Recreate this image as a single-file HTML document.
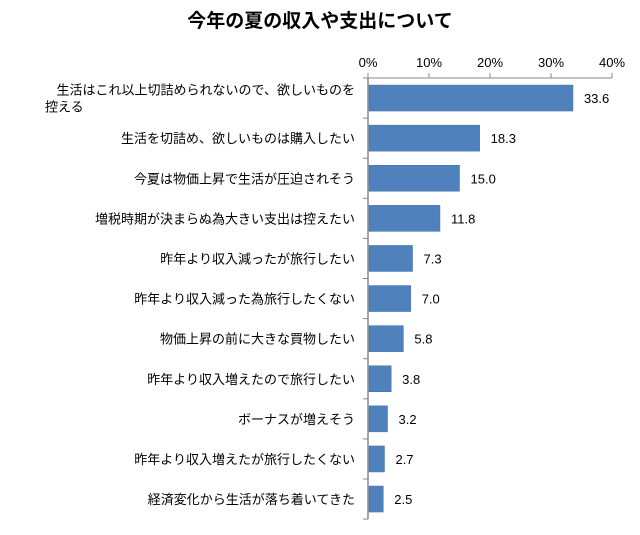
<!DOCTYPE html>
<html><head><meta charset="utf-8"><style>
body{margin:0;background:#fff;font-family:"Liberation Sans","Noto Sans CJK JP",sans-serif}
svg text{font-family:"Liberation Sans","Noto Sans CJK JP",sans-serif}
</style></head><body>
<svg id="c" width="640" height="530">
<text x="320" y="27" text-anchor="middle" font-size="19" font-weight="bold" fill="#000">今年の夏の収入や支出について</text>
</svg>
<script>
const categories=[["生活はこれ以上切詰められないので、欲しいものを","控える"],["生活を切詰め、欲しいものは購入したい"],["今夏は物価上昇で生活が圧迫されそう"],["増税時期が決まらぬ為大きい支出は控えたい"],["昨年より収入減ったが旅行したい"],["昨年より収入減った為旅行したくない"],["物価上昇の前に大きな買物したい"],["昨年より収入増えたので旅行したい"],["ボーナスが増えそう"],["昨年より収入増えたが旅行したくない"],["経済変化から生活が落ち着いてきた"]];
const values=[33.6,18.3,15.0,11.8,7.3,7.0,5.8,3.8,3.2,2.7,2.5];
const ticks=[0,10,20,30,40];
const NS="http://www.w3.org/2000/svg",svg=document.getElementById('c');
const x0=368,x1=612,y0=78,band=40.1;
const xs=v=>x0+(x1-x0)*v/40;
function mk(t,a,txt){const e=document.createElementNS(NS,t);for(const k in a)e.setAttribute(k,a[k]);if(txt!=null)e.textContent=txt;svg.appendChild(e);return e;}
const yBottom=y0+band*categories.length;
let ax=mk('line',{x1:x0,y1:y0,x2:x1,y2:y0,stroke:'#888','stroke-width':1});


let ay=mk('line',{x1:x0,y1:y0,x2:x0,y2:yBottom,stroke:'#888','stroke-width':1.5});


ticks.forEach(t=>{
 let l=mk('line',{x1:xs(t),y1:y0-5,x2:xs(t),y2:y0,stroke:'#888'});
 
 
 let tx=mk('text',{x:xs(t),y:67,'text-anchor':'middle','font-size':13,fill:'#000'},t+'%');
 
 
});
for(let i=0;i<=categories.length;i++){
 let l=mk('line',{x1:x0-5,y1:y0+band*i,x2:x0,y2:y0+band*i,stroke:'#888'});
 
 
}
categories.forEach((c,i)=>{
 const cy=y0+band*i+band/2;
 let b=mk('rect',{x:x0+1,y:cy-13,width:xs(values[i])-x0-1,height:26,fill:'#4f81bd',stroke:'#3f6fa8','stroke-width':0.5});
 
 
 let v=mk('text',{x:xs(values[i])+11,y:cy+5,'font-size':13,fill:'#000'},values[i].toFixed(1));
 
 
 const n=c.length;
 c.forEach((ln,j)=>{
  const second=n>1&&j==1;
  let t=mk('text',{x:second?45:355,y:cy+5+(j-(n-1)/2)*17,'text-anchor':second?'start':'end','font-size':13,fill:'#000'},ln);
  
  
 });
});
</script>
</body></html>
